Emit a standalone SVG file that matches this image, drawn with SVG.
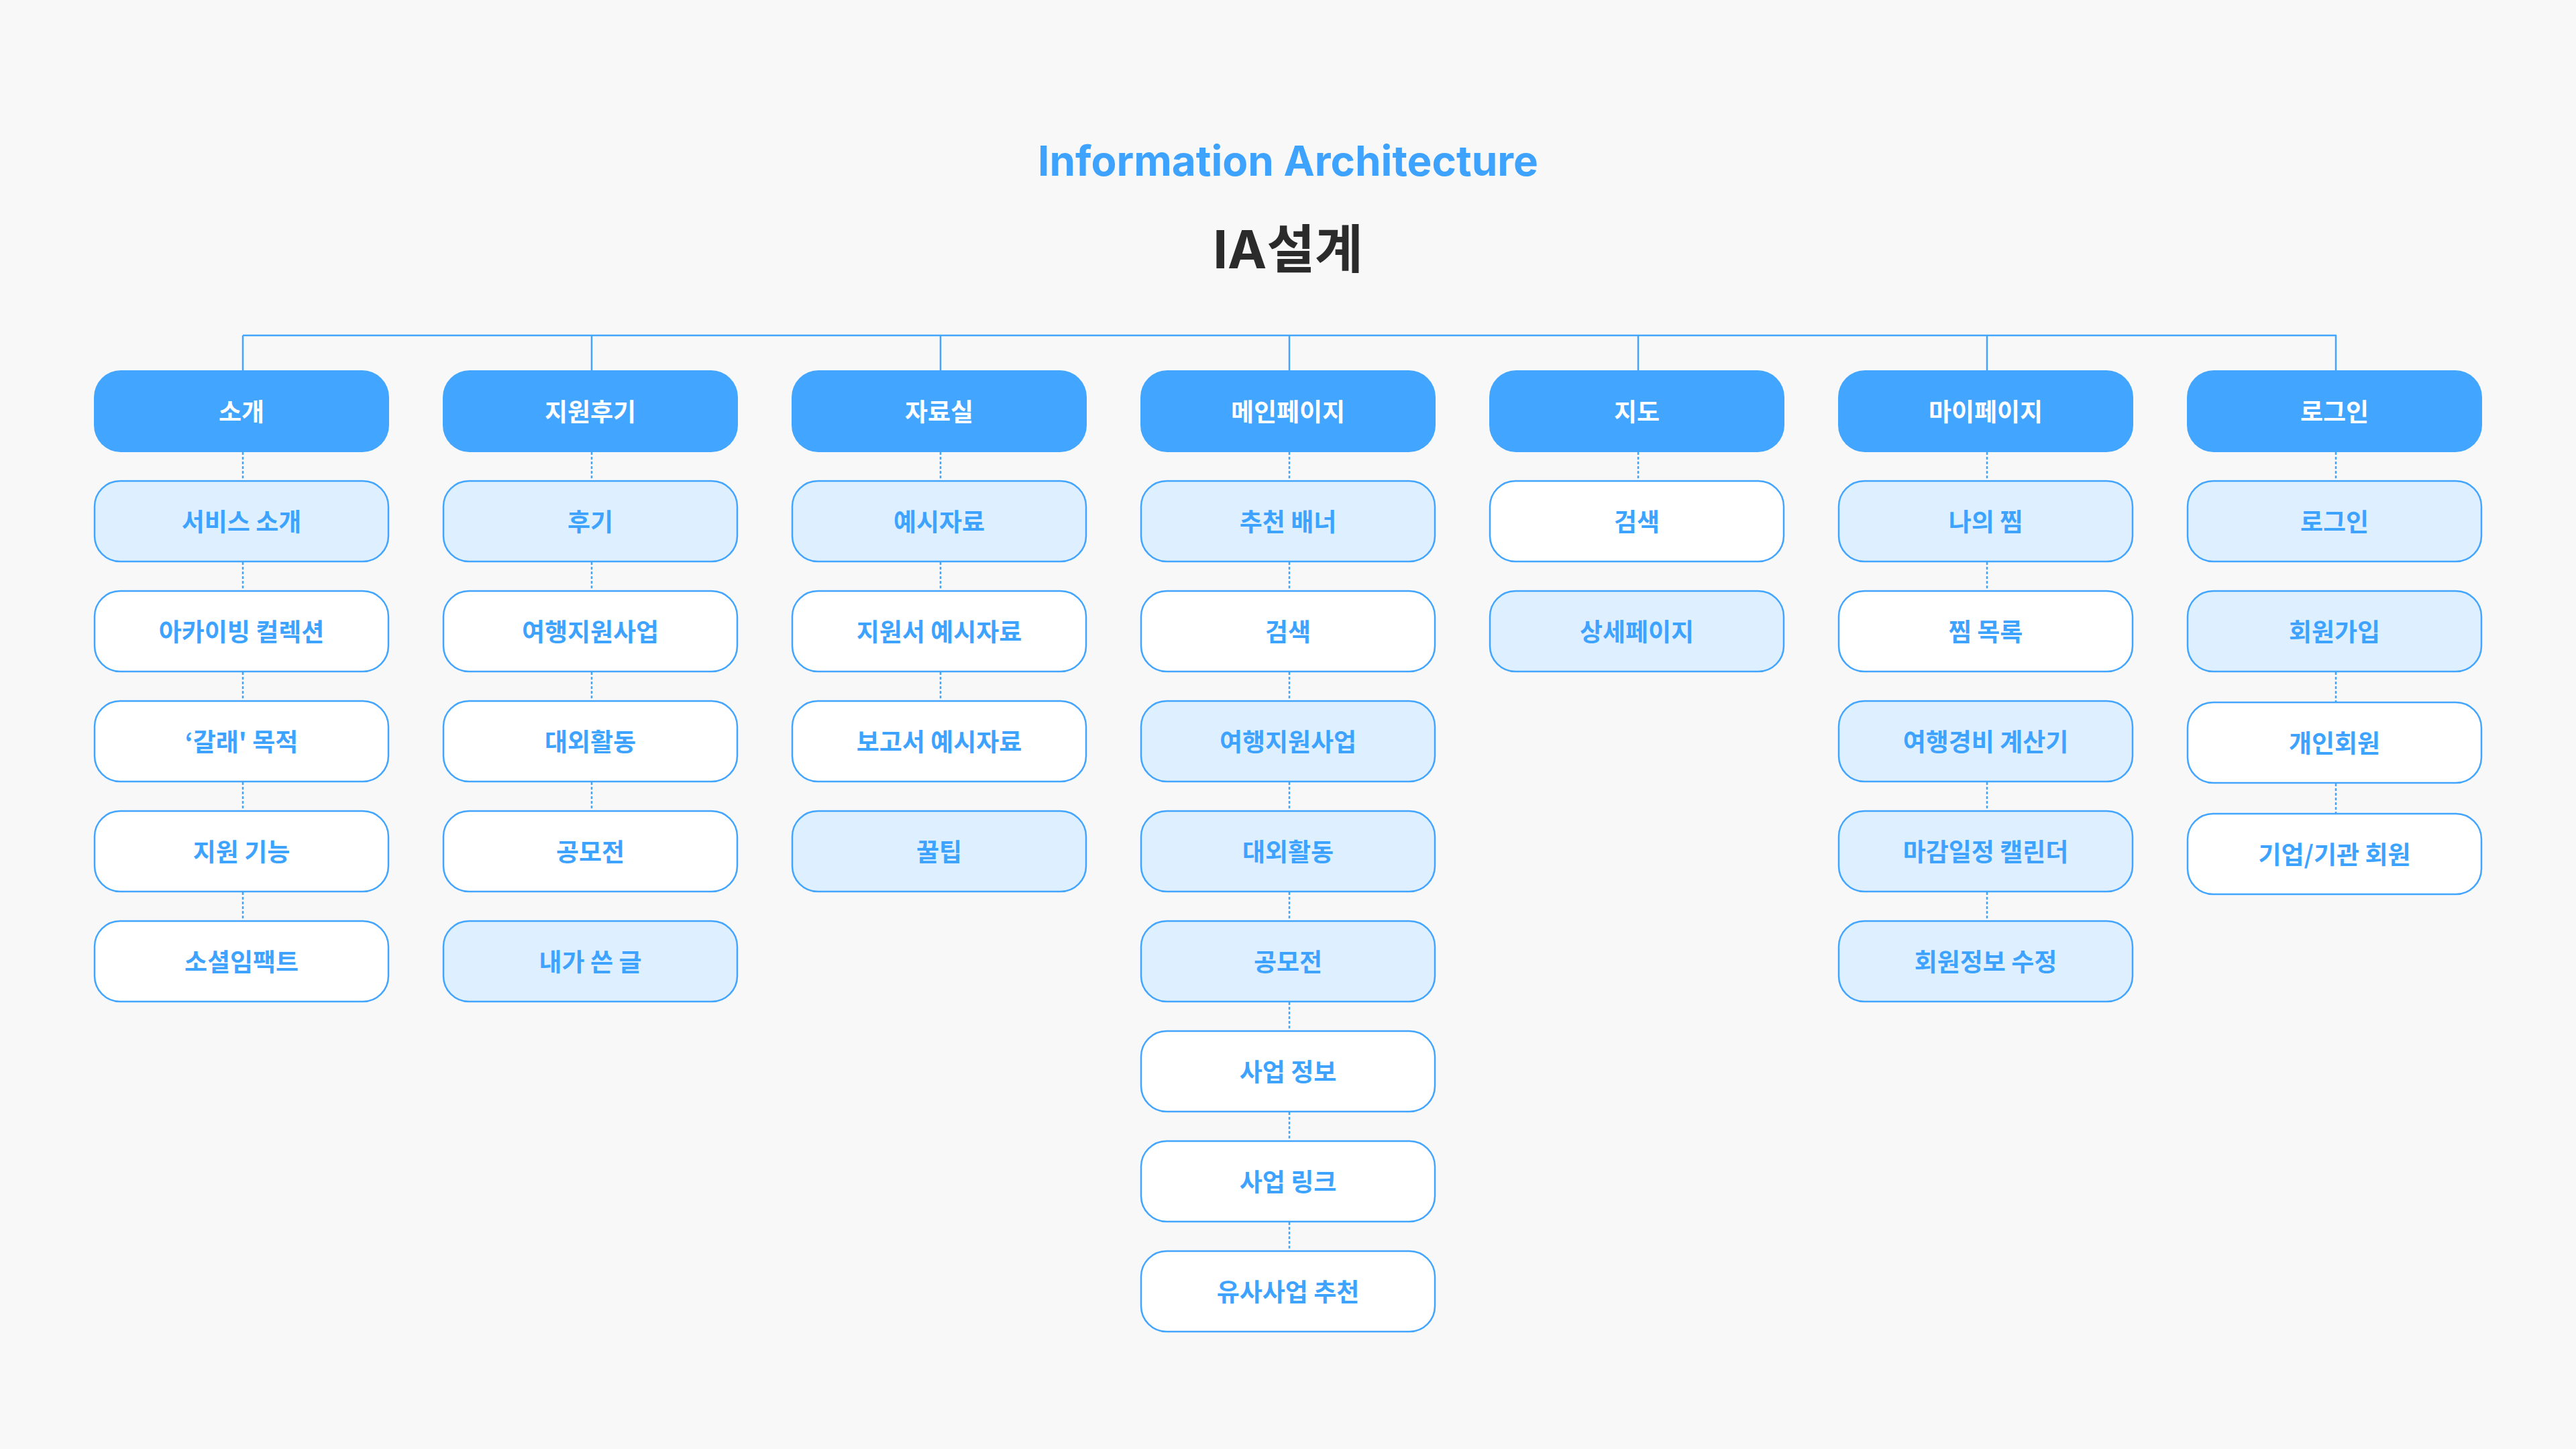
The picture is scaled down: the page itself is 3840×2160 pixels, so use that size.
<svg xmlns="http://www.w3.org/2000/svg" width="3840" height="2160" viewBox="0 0 3840 2160">
<style>
.bg{fill:#F8F8F8}
.hd{fill:#42A5FF}
.lt{fill:#DEF0FF;stroke:#42A5FF;stroke-width:2.5}
.wt{fill:#FFFFFF;stroke:#42A5FF;stroke-width:2.5}
.ht{fill:#FFFFFF;font-family:"Noto Sans CJK KR","Noto Sans",sans-serif;font-weight:700;font-size:37px;text-anchor:middle}
.ct{fill:#3EA3FF;font-family:"Noto Sans CJK KR","Noto Sans",sans-serif;font-weight:700;font-size:37px;text-anchor:middle}
.solid{stroke:#42A5FF;stroke-width:2.5;fill:none}
.dash{stroke:#42A5FF;stroke-width:2.5;stroke-dasharray:4 3;fill:none}
</style>
<rect class="bg" x="0" y="0" width="3840" height="2160"/>
<text x="1920" y="262" fill="#3EA3FF" font-family="Inter,'Liberation Sans',sans-serif" font-weight="700" font-size="62" text-anchor="middle">Information Architecture</text>
<text x="1920" y="400" fill="#2B2B2B" font-family="Inter,'Noto Sans CJK KR',sans-serif" font-weight="700" font-size="78" text-anchor="middle">IA설계</text>

<g id="connectors">
<path class="solid" d="M362 500H3483M362 500V552M882 500V552M1402 500V552M1922 500V552M2442 500V552M2962 500V552M3482 500V552"/>
<!-- 소개 -->
<path class="dash" d="M362 674V716M362 838V880M362 1002V1044M362 1166V1208M362 1330V1372"/>
<!-- 지원후기 -->
<path class="dash" d="M882 674V716M882 838V880M882 1002V1044M882 1166V1208"/>
<!-- 자료실 -->
<path class="dash" d="M1402 674V716M1402 838V880M1402 1002V1044"/>
<!-- 메인페이지 -->
<path class="dash" d="M1922 674V716M1922 838V880M1922 1002V1044M1922 1166V1208M1922 1330V1372M1922 1494V1536M1922 1658V1700M1922 1822V1864"/>
<!-- 지도 -->
<path class="dash" d="M2442 674V716"/>
<!-- 마이페이지 -->
<path class="dash" d="M2962 674V716M2962 838V880M2962 1166V1208M2962 1330V1372"/>
<!-- 로그인 -->
<path class="dash" d="M3482 674V716M3482 1002V1046M3482 1168V1212"/>
</g>

<!-- Column 1: 소개 -->
<g id="h-intro"><rect class="hd" x="140" y="552" width="440" height="122" rx="40"/><text class="ht" x="360" y="628">소개</text></g>
<g id="n-service"><rect class="lt" x="141" y="717" width="438" height="120" rx="38"/><text class="ct" x="360" y="792">서비스 소개</text></g>
<g id="n-archive"><rect class="wt" x="141" y="881" width="438" height="120" rx="38"/><text class="ct" x="360" y="956">아카이빙 컬렉션</text></g>
<g id="n-purpose"><rect class="wt" x="141" y="1045" width="438" height="120" rx="38"/><text class="ct" x="360" y="1120">‘갈래' 목적</text></g>
<g id="n-support"><rect class="wt" x="141" y="1209" width="438" height="120" rx="38"/><text class="ct" x="360" y="1284">지원 기능</text></g>
<g id="n-social"><rect class="wt" x="141" y="1373" width="438" height="120" rx="38"/><text class="ct" x="360" y="1448">소셜임팩트</text></g>

<!-- Column 2: 지원후기 -->
<g id="h-review"><rect class="hd" x="660" y="552" width="440" height="122" rx="40"/><text class="ht" x="880" y="628">지원후기</text></g>
<g id="n-review"><rect class="lt" x="661" y="717" width="438" height="120" rx="38"/><text class="ct" x="880" y="792">후기</text></g>
<g id="n-travel1"><rect class="wt" x="661" y="881" width="438" height="120" rx="38"/><text class="ct" x="880" y="956">여행지원사업</text></g>
<g id="n-activity1"><rect class="wt" x="661" y="1045" width="438" height="120" rx="38"/><text class="ct" x="880" y="1120">대외활동</text></g>
<g id="n-contest1"><rect class="wt" x="661" y="1209" width="438" height="120" rx="38"/><text class="ct" x="880" y="1284">공모전</text></g>
<g id="n-mypost"><rect class="lt" x="661" y="1373" width="438" height="120" rx="38"/><text class="ct" x="880" y="1448">내가 쓴 글</text></g>

<!-- Column 3: 자료실 -->
<g id="h-library"><rect class="hd" x="1180" y="552" width="440" height="122" rx="40"/><text class="ht" x="1400" y="628">자료실</text></g>
<g id="n-samples"><rect class="lt" x="1181" y="717" width="438" height="120" rx="38"/><text class="ct" x="1400" y="792">예시자료</text></g>
<g id="n-appsample"><rect class="wt" x="1181" y="881" width="438" height="120" rx="38"/><text class="ct" x="1400" y="956">지원서 예시자료</text></g>
<g id="n-reportsample"><rect class="wt" x="1181" y="1045" width="438" height="120" rx="38"/><text class="ct" x="1400" y="1120">보고서 예시자료</text></g>
<g id="n-tips"><rect class="lt" x="1181" y="1209" width="438" height="120" rx="38"/><text class="ct" x="1400" y="1284">꿀팁</text></g>

<!-- Column 4: 메인페이지 -->
<g id="h-main"><rect class="hd" x="1700" y="552" width="440" height="122" rx="40"/><text class="ht" x="1920" y="628">메인페이지</text></g>
<g id="n-banner"><rect class="lt" x="1701" y="717" width="438" height="120" rx="38"/><text class="ct" x="1920" y="792">추천 배너</text></g>
<g id="n-search1"><rect class="wt" x="1701" y="881" width="438" height="120" rx="38"/><text class="ct" x="1920" y="956">검색</text></g>
<g id="n-travel2"><rect class="lt" x="1701" y="1045" width="438" height="120" rx="38"/><text class="ct" x="1920" y="1120">여행지원사업</text></g>
<g id="n-activity2"><rect class="lt" x="1701" y="1209" width="438" height="120" rx="38"/><text class="ct" x="1920" y="1284">대외활동</text></g>
<g id="n-contest2"><rect class="lt" x="1701" y="1373" width="438" height="120" rx="38"/><text class="ct" x="1920" y="1448">공모전</text></g>
<g id="n-bizinfo"><rect class="wt" x="1701" y="1537" width="438" height="120" rx="38"/><text class="ct" x="1920" y="1612">사업 정보</text></g>
<g id="n-bizlink"><rect class="wt" x="1701" y="1701" width="438" height="120" rx="38"/><text class="ct" x="1920" y="1776">사업 링크</text></g>
<g id="n-similar"><rect class="wt" x="1701" y="1865" width="438" height="120" rx="38"/><text class="ct" x="1920" y="1940">유사사업 추천</text></g>

<!-- Column 5: 지도 -->
<g id="h-map"><rect class="hd" x="2220" y="552" width="440" height="122" rx="40"/><text class="ht" x="2440" y="628">지도</text></g>
<g id="n-search2"><rect class="wt" x="2221" y="717" width="438" height="120" rx="38"/><text class="ct" x="2440" y="792">검색</text></g>
<g id="n-detail"><rect class="lt" x="2221" y="881" width="438" height="120" rx="38"/><text class="ct" x="2440" y="956">상세페이지</text></g>

<!-- Column 6: 마이페이지 -->
<g id="h-mypage"><rect class="hd" x="2740" y="552" width="440" height="122" rx="40"/><text class="ht" x="2960" y="628">마이페이지</text></g>
<g id="n-mylikes"><rect class="lt" x="2741" y="717" width="438" height="120" rx="38"/><text class="ct" x="2960" y="792">나의 찜</text></g>
<g id="n-likelist"><rect class="wt" x="2741" y="881" width="438" height="120" rx="38"/><text class="ct" x="2960" y="956">찜 목록</text></g>
<g id="n-calc"><rect class="lt" x="2741" y="1045" width="438" height="120" rx="38"/><text class="ct" x="2960" y="1120">여행경비 계산기</text></g>
<g id="n-calendar"><rect class="lt" x="2741" y="1209" width="438" height="120" rx="38"/><text class="ct" x="2960" y="1284">마감일정 캘린더</text></g>
<g id="n-profile"><rect class="lt" x="2741" y="1373" width="438" height="120" rx="38"/><text class="ct" x="2960" y="1448">회원정보 수정</text></g>

<!-- Column 7: 로그인 -->
<g id="h-login"><rect class="hd" x="3260" y="552" width="440" height="122" rx="40"/><text class="ht" x="3480" y="628">로그인</text></g>
<g id="n-login"><rect class="lt" x="3261" y="717" width="438" height="120" rx="38"/><text class="ct" x="3480" y="792">로그인</text></g>
<g id="n-signup"><rect class="lt" x="3261" y="881" width="438" height="120" rx="38"/><text class="ct" x="3480" y="956">회원가입</text></g>
<g id="n-personal"><rect class="wt" x="3261" y="1047" width="438" height="120" rx="38"/><text class="ct" x="3480" y="1122">개인회원</text></g>
<g id="n-corp"><rect class="wt" x="3261" y="1213" width="438" height="120" rx="38"/><text class="ct" x="3480" y="1288">기업/기관 회원</text></g>
</svg>
